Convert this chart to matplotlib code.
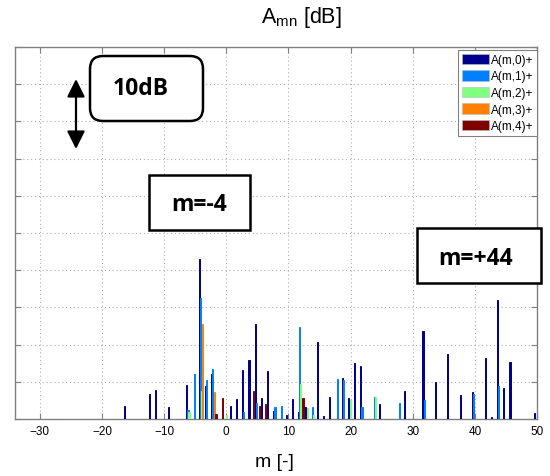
import numpy as np
import matplotlib
matplotlib.use('Agg')
from matplotlib import pyplot as plt
from matplotlib.patches import Patch, FancyBboxPatch

plt.rcParams['font.family'] = ['Liberation Sans', 'DejaVu Sans']
plt.rcParams['mathtext.fontset'] = 'custom'
plt.rcParams['mathtext.rm'] = 'Liberation Sans'

# amplitudes above the floor [dB], one list per radial order n
m0 = [-16, -12, -11, -9, -6, -4, -3, -2, 1, 2, 3, 4, 5, 6, 7, 8, 10, 11, 12, 13,
      15, 16, 17, 19, 20, 21, 22, 25, 29, 32, 34, 36, 38, 40, 42, 43, 44, 45, 46, 50]
a0 = [1.8, 3.4, 3.9, 1.6, 4.6, 21.5, 4.5, 6.0, 1.8, 2.7, 6.6, 7.9, 12.8, 2.8, 6.4, 1.1, 0.6, 2.7, 0.9, 1.6,
      10.3, 0.45, 2.9, 5.5, 2.8, 7.5, 7.1, 2.0, 3.7, 11.8, 5.0, 8.7, 3.2, 3.6, 8.2, 0.3, 16.0, 4.1, 7.7, 0.8]
m1 = [-6, -5, -4, -3, -2, 3, 5, 8, 9, 12, 14, 18, 19, 22, 24, 28, 32, 40, 44]
a1 = [1.2, 6.0, 16.2, 5.2, 6.7, 0.9, 2.2, 1.6, 1.8, 12.3, 1.6, 5.4, 5.3, 1.6, 2.9, 2.2, 2.5, 3.3, 4.5]
m2 = [-6, -4, 0, 12, 13, 14, 20, 24]
a2 = [1.0, 3.8, 0.5, 4.7, 1.5, 0.6, 2.5, 2.9]
m3 = [-4, -2]
a3 = [12.8, 3.6]
m4 = [-2, -1, 4, 5, 6, 12]
a4 = [0.7, 2.8, 3.7, 1.8, 2.0, 2.8]

labels = ['A(m,0)+', 'A(m,1)+', 'A(m,2)+', 'A(m,3)+', 'A(m,4)+']
colors = ['#00008F', '#0080FF', '#80FF80', '#FF8000', '#800000']
offsets = [-0.34, -0.17, 0.0, 0.17, 0.34]
series = [(m0, a0), (m1, a1), (m2, a2), (m3, a3), (m4, a4)]

W, H = 550, 477
fig = plt.figure(figsize=(W / 100, H / 100), dpi=100)
ax = fig.add_axes([15 / W, 1 - 420 / H, (537 - 15) / W, (420 - 48) / H])

for (m, a), c, off in zip(series, colors, offsets):
    ax.bar(np.array(m) + off, a, width=0.18, color=c, edgecolor=c, linewidth=0.7, zorder=3)

ax.set_xlim(-34, 50)
ax.set_ylim(0, 50)
ax.set_xticks(np.arange(-30, 51, 10))
ax.set_yticks(np.arange(0, 51, 5))
ax.set_yticklabels([])
ax.tick_params(direction='in', length=4, color='#808080', top=True, right=True,
               labelsize=8.5, pad=4)
ax.grid(True, linestyle=(0, (1, 2.5)), color='#b0b0b0', linewidth=0.8, zorder=0)
for s in ax.spines.values():
    s.set_color('#808080')
    s.set_linewidth(1.0)

handles = [Patch(facecolor=c, edgecolor='#bbbbbb', linewidth=0.4) for c in colors]
leg = ax.legend(handles, labels, loc='upper right', bbox_to_anchor=(1.0, 1 - 3 / 372),
                fontsize=8.5, handlelength=2.3, handleheight=1.0, handletextpad=0.15,
                labelspacing=0.36, borderpad=0.3, borderaxespad=0.0, fancybox=False,
                framealpha=1)
leg.get_frame().set_edgecolor('#808080')
leg.get_frame().set_linewidth(0.8)

fig.text(301 / W, 1 - 18 / H, r'A$_{\mathrm{mn}}$ [dB]', fontsize=15.5, ha='center', va='center')
fig.text(274 / W, 1 - 463 / H, 'm [-]', fontsize=14, ha='center', va='center')

# annotation boxes (in inches, origin bottom-left)
def box(x0, y0, x1, y1, rounded):
    style = 'round,pad=0,rounding_size=0.13' if rounded else 'square,pad=0'
    p = FancyBboxPatch((x0 / 100, (H - y1) / 100), (x1 - x0) / 100, (y1 - y0) / 100,
                       boxstyle=style, transform=fig.dpi_scale_trans,
                       facecolor='white', edgecolor='black', linewidth=1.8, zorder=5)
    fig.add_artist(p)

box(90, 57, 203, 122, True)
box(149, 176, 250, 231, False)
box(417, 229, 541, 284, False)

bold = dict(family=['Open Sans', 'DejaVu Sans'], fontweight='bold', fontsize=16.5,
            ha='center', va='center', zorder=6)
fig.text(141 / W, 1 - 89 / H, '10dB', **bold)
fig.text(199 / W, 1 - 205 / H, 'm=-4', **bold)
fig.text(476 / W, 1 - 259 / H, 'm=+44', **bold)

ax.annotate('', xy=(76, H - 80), xytext=(76, H - 150), xycoords='figure pixels',
            textcoords='figure pixels',
            arrowprops=dict(arrowstyle='<|-|>,head_length=0.4,head_width=0.2',
                            mutation_scale=27, color='black', lw=1.6,
                            shrinkA=0, shrinkB=0))

fig.savefig('out.png', dpi=100)
